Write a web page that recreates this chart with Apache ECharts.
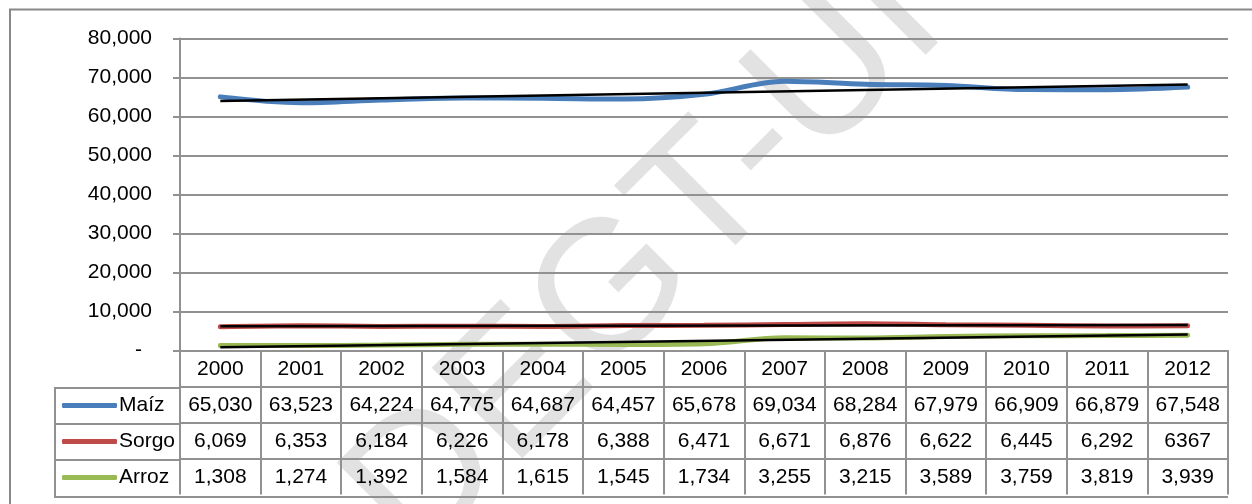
<!DOCTYPE html>
<html>
<head>
<meta charset="utf-8">
<script src="https://cdn.jsdelivr.net/npm/echarts@6/dist/echarts.min.js"></script>
<style>
  html, body { margin: 0; padding: 0; background: #fff; }
  #main { width: 1252px; height: 504px; }
</style>
</head>
<body>
<div id="main"></div>
<script>
// categories and values as printed in the data table
const years = ['2000', '2001', '2002', '2003', '2004', '2005', '2006', '2007', '2008', '2009', '2010', '2011', '2012']
const maizText = ['65,030', '63,523', '64,224', '64,775', '64,687', '64,457', '65,678', '69,034', '68,284', '67,979', '66,909', '66,879', '67,548']
const sorgoText = ['6,069', '6,353', '6,184', '6,226', '6,178', '6,388', '6,471', '6,671', '6,876', '6,622', '6,445', '6,292', '6367']
const arrozText = ['1,308', '1,274', '1,392', '1,584', '1,615', '1,545', '1,734', '3,255', '3,215', '3,589', '3,759', '3,819', '3,939']

const toNum = (s) => Number(s.replace(/,/g, ''))
const maiz = maizText.map(toNum)
const sorgo = sorgoText.map(toNum)
const arroz = arrozText.map(toNum)

// black trend lines, start / end values
const trendMaiz = [63970, 68190]
const trendSorgo = [6220, 6570]
const trendArroz = [850, 4080]

const yMax = 80000
const yStep = 10000

const FONT = '"Liberation Sans Narrow", "Arial Narrow", "Liberation Sans", Arial, sans-serif'
const GRAY = '#919191'
const gridLeft = 180
const gridRight = 1228
const rowH = 36
const tableTop = 352

const chart = echarts.init(document.getElementById('main'))

const tableAxis = (data, k) => ({
  type: 'category',
  data: data,
  position: 'bottom',
  offset: rowH * k,
  boundaryGap: true,
  axisLine: { show: true, lineStyle: { color: GRAY, width: 2 } },
  axisTick: { show: true, interval: 0, length: rowH, lineStyle: { color: GRAY, width: 2 } },
  axisLabel: { interval: 0, margin: 8, color: '#000', fontSize: 21, fontFamily: FONT },
  splitLine: { show: false }
})

const trend = (name, ends) => ({
  name: name + ' trend',
  type: 'line',
  data: [[years[0], ends[0]], [years[years.length - 1], ends[1]]],
  symbol: 'none',
  lineStyle: { color: '#000', width: 2.5 },
  z: 5,
  silent: true
})

const line = (name, data, color) => ({
  name: name,
  type: 'line',
  data: data,
  color: color,
  smooth: 0.35,
  symbol: 'none',
  lineStyle: { color: color, width: 5, cap: 'round' },
  z: 3
})

const option = {
  animation: false,
  grid: { left: gridLeft, right: 1252 - gridRight, top: 38.5, bottom: 504 - 350.5 },
  legend: {
    data: ['Maíz', 'Sorgo', 'Arroz'],
    orient: 'vertical',
    left: 62,
    top: 395,
    padding: 0,
    itemGap: 15,
    itemWidth: 55,
    itemHeight: 5,
    icon: 'roundRect',
    textStyle: { color: '#000', fontSize: 21, fontFamily: FONT, padding: [0, 0, 0, -3] },
    selectedMode: false
  },
  xAxis: [
    tableAxis(years, 0),
    tableAxis(maizText, 1),
    tableAxis(sorgoText, 2),
    tableAxis(arrozText, 3)
  ],
  yAxis: {
    type: 'value',
    min: 0,
    max: yMax,
    interval: yStep,
    axisLine: { show: true, lineStyle: { color: GRAY, width: 2 } },
    axisTick: { show: true, length: 7, lineStyle: { color: GRAY, width: 2 } },
    splitLine: { lineStyle: { color: GRAY, width: 2 } },
    axisLabel: {
      margin: 28,
      color: '#000',
      fontSize: 21,
      fontFamily: FONT,
      formatter: (v) => (v === 0 ? '{z|-}' : v.toLocaleString('en-US')),
      rich: { z: { fontSize: 21, fontFamily: FONT, color: '#000', padding: [0, 10, 0, 0] } }
    }
  },
  series: [
    line('Maíz', maiz, '#4a7ebb'),
    line('Sorgo', sorgo, '#be4b48'),
    line('Arroz', arroz, '#98b954'),
    trend('Maíz', trendMaiz),
    trend('Sorgo', trendSorgo),
    trend('Arroz', trendArroz)
  ],
  graphic: [
    {
      type: 'text',
      x: 647,
      y: 261,
      rotation: Math.PI / 4,
      z: -100,
      silent: true,
      style: {
        text: 'DEGT-UI',
        fontSize: 186,
        fontFamily: '"Liberation Sans", Arial, sans-serif',
        fill: '#e2e2e2',
        align: 'center',
        verticalAlign: 'middle'
      }
    },
    {
      type: 'rect',
      z: -50,
      silent: true,
      shape: { x: 10, y: 9.5, width: 1400, height: 700 },
      style: { fill: 'none', stroke: '#888', lineWidth: 2 }
    },
    {
      type: 'polyline',
      silent: true,
      shape: { points: [[gridLeft, tableTop + rowH], [55, tableTop + rowH], [55, tableTop + 4 * rowH + 1], [gridRight, tableTop + 4 * rowH + 1]] },
      style: { fill: 'none', stroke: GRAY, lineWidth: 2 }
    },
    {
      type: 'line',
      silent: true,
      shape: { x1: 55, y1: tableTop + 2 * rowH, x2: gridLeft, y2: tableTop + 2 * rowH },
      style: { stroke: GRAY, lineWidth: 2 }
    },
    {
      type: 'line',
      silent: true,
      shape: { x1: 55, y1: tableTop + 3 * rowH, x2: gridLeft, y2: tableTop + 3 * rowH },
      style: { stroke: GRAY, lineWidth: 2 }
    }
  ]
}

chart.setOption(option)
</script>
</body>
</html>
